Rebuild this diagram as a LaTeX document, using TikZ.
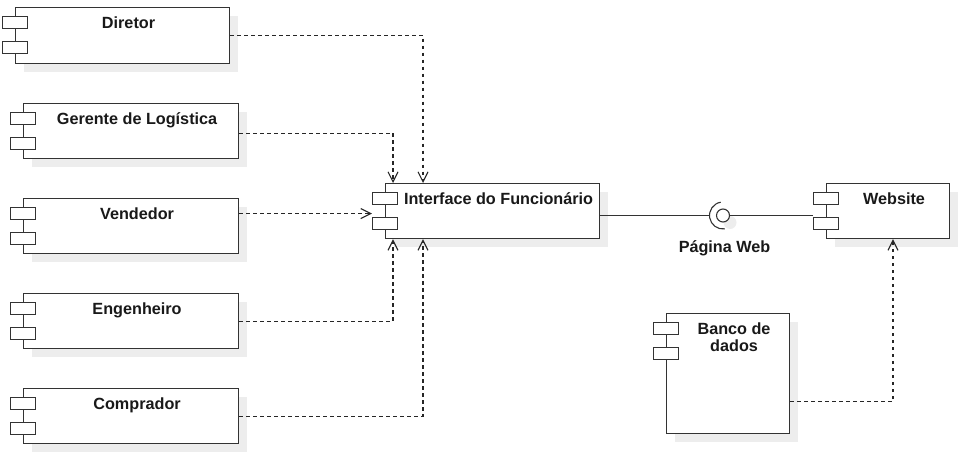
\documentclass[tikz,border=0pt]{standalone}
\usepackage{fontspec}
\setmainfont{Liberation Sans}
\usetikzlibrary{arrows.meta,shadows}

\tikzset{
  comp/.style={draw=black!80, line width=1.1pt, fill=white, anchor=north west, inner sep=0pt,
    drop shadow={shadow xshift=8.5pt, shadow yshift=-8.5pt, fill=black!7, opacity=1}},
  port/.style={draw=black!80, line width=1.1pt, fill=white, minimum width=25pt, minimum height=12.5pt, inner sep=0pt},
  title/.style={font=\fontsize{16.2}{16.5}\selectfont\bfseries, text=black!90, inner sep=0pt, align=center},
  dep/.style={draw=black!85, line width=1.1pt, dash pattern=on 3.5pt off 3.5pt, -{Straight Barb[length=10pt, width=10pt]}},
  link/.style={draw=black!80, line width=1.1pt}
}

\begin{document}
\begin{tikzpicture}[x=1pt, y=-1pt]
\useasboundingbox (0,0) rectangle (965,455);

% Component: name, left, top, width, height, text
\def\comp#1#2#3#4#5#6{
  \node[comp, minimum width=#4pt, minimum height=#5pt] (#1) at (#2,#3) {};
  \node[port] (#1-p1) at ([yshift=-15.5pt]#1.north west) {};
  \node[port] (#1-p2) at ([yshift=-40.5pt]#1.north west) {};
  \node[title, anchor=north] (#1-t) at ([xshift=6pt, yshift=-7.5pt]#1.north) {\rule{0pt}{14pt}#6};
}

% Actors on the left
\comp{dir}{15}{7}{214}{56}{Diretor}
\comp{ger}{23}{103}{215}{55}{Gerente de Logística}
\comp{ven}{23}{198}{215}{55}{Vendedor}
\comp{eng}{23}{293}{215}{55}{Engenheiro}
\comp{cmp}{23}{388}{215}{55}{Comprador}

% Interface, website and database
\comp{if}{385}{183}{214}{55}{Interface do Funcionário}
\comp{web}{826}{183}{123}{55}{Website}
\comp{ban}{666}{313}{123}{120}{Banco de\\dados}

% Provided / required interface
\node[circle, draw=black!80, line width=1.1pt, fill=white, minimum size=13pt, inner sep=0pt,
  drop shadow={shadow xshift=7pt, shadow yshift=-7pt, fill=black!7, opacity=1}] (ball) at (723,215.5) {};
\draw[link] (ball.center) ++(-100:13.5) arc[start angle=-100, end angle=-278, radius=13.5];
\node[title, anchor=base] (pw) at (724.5,252) {Página Web};

\draw[link] (if.east |- ball.center) -- ([xshift=-13.5pt]ball.center);
\draw[link] (ball.east) -- (web-p2.west |- ball.east);

% Dependencies
\draw[dep] (dir.east) -| ([xshift=38pt]if.north west);
\draw[dep] ([yshift=-2pt]ger.east) -| ([xshift=8pt]if.north west);
\draw[dep] ([yshift=-2.5pt]if.west -| ven.east) -- ([yshift=-2.5pt]if.west -| if-p1.west);
\draw[dep] (eng.east) -| ([xshift=8pt]if.south west);
\draw[dep] (cmp.east) -| ([xshift=38pt]if.south west);
\draw[dep] ([yshift=33pt]ban.south east) -| ([xshift=67pt]web.south west);

\end{tikzpicture}
\end{document}
